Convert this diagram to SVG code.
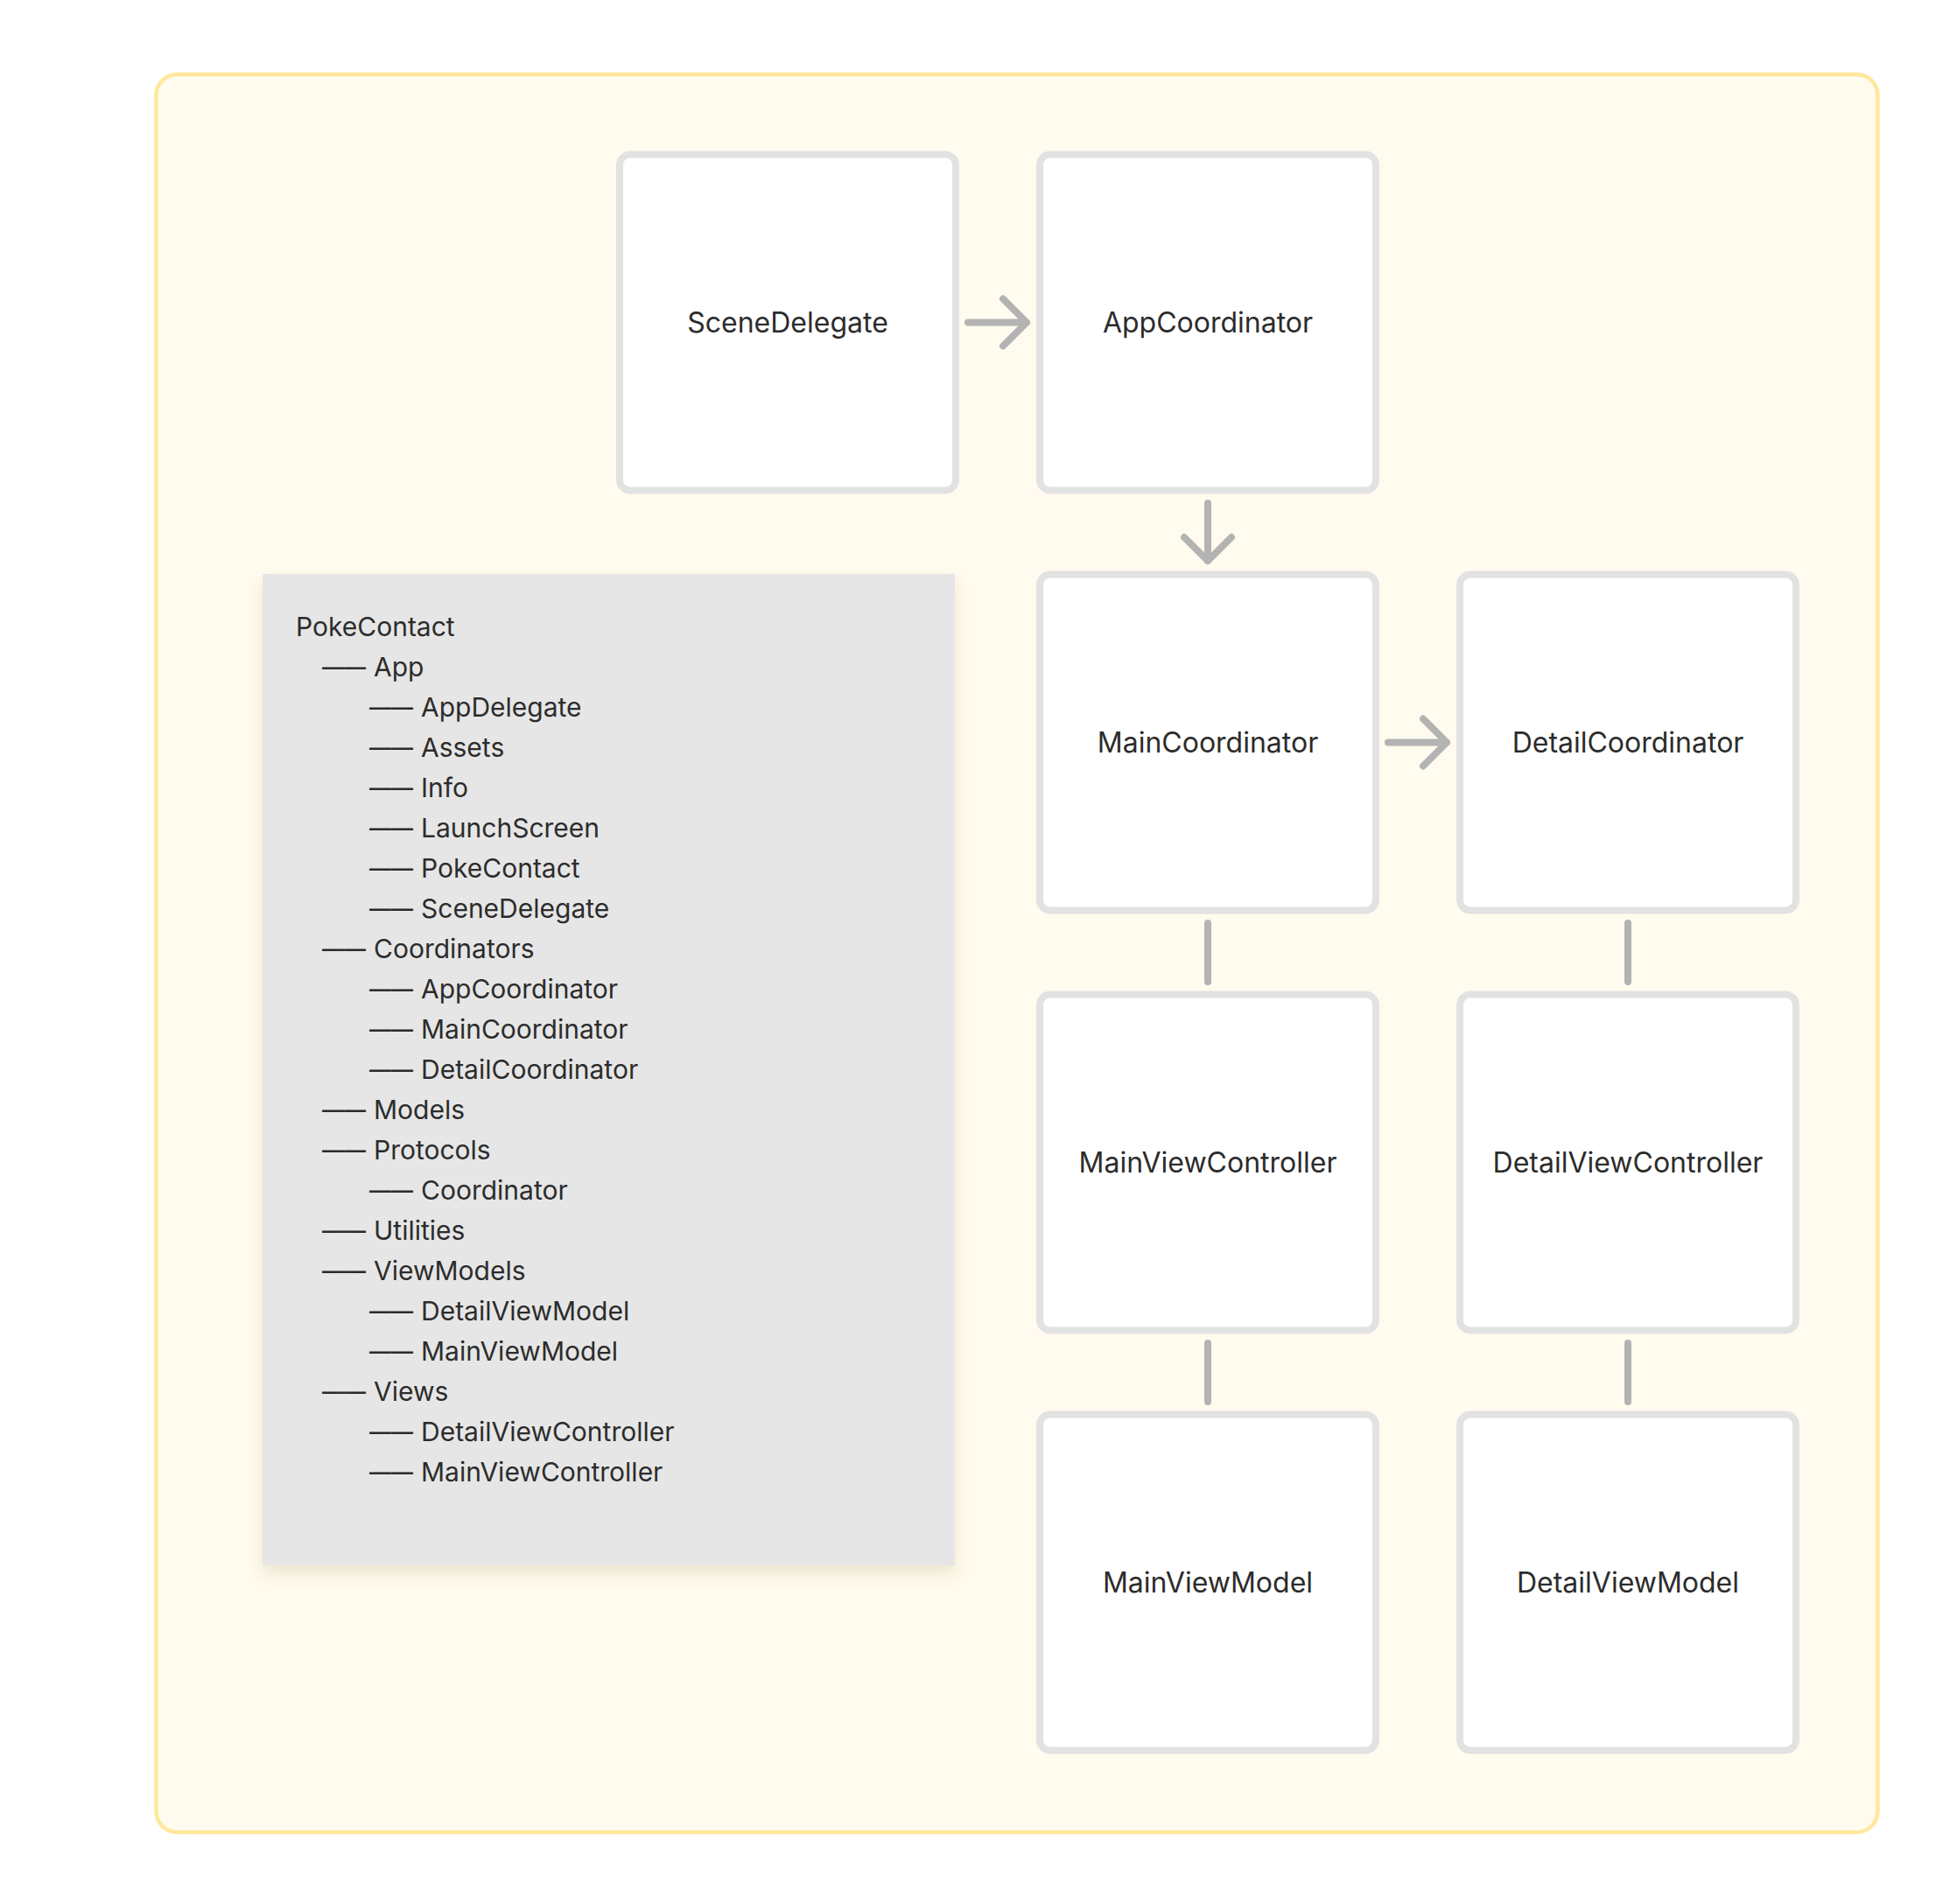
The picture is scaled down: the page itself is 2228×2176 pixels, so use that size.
<svg xmlns="http://www.w3.org/2000/svg" width="2228" height="2176" viewBox="0 0 2228 2176">
<style>
.frame{fill:#fffbee;stroke:#ffe79c;stroke-width:4.5}
.node rect{fill:#ffffff;stroke:#e2e2e2;stroke-width:8}
.node text{font-family:Inter,"Noto Sans","Liberation Sans",sans-serif;font-size:32px;fill:#2c2c2c;text-anchor:middle}
.conn{stroke:#b3b3b3;stroke-width:8;stroke-linecap:round;stroke-linejoin:round;fill:none}
#tree text{font-family:Inter,"Noto Sans","Liberation Sans",sans-serif;font-size:30px;fill:#2c2c2c}
.panel{fill:#e6e6e6}
</style>
<defs>
<filter id="shadow" x="-10%" y="-10%" width="120%" height="125%">
<feDropShadow dx="0" dy="10" stdDeviation="9" flood-color="#6b5a1e" flood-opacity="0.13"/>
</filter>
</defs>
<rect width="2228" height="2176" fill="#ffffff"/>
<rect class="frame" x="178.4" y="85" width="1967" height="2009" rx="24"/>

<g id="tree">
<rect class="panel" x="300" y="656" width="791" height="1133" filter="url(#shadow)"/>
<text x="338" y="727">PokeContact</text>
<text y="773"><tspan x="368" textLength="50" lengthAdjust="spacingAndGlyphs">——</tspan><tspan x="427">App</tspan></text>
<text y="819"><tspan x="422" textLength="50" lengthAdjust="spacingAndGlyphs">——</tspan><tspan x="481">AppDelegate</tspan></text>
<text y="865"><tspan x="422" textLength="50" lengthAdjust="spacingAndGlyphs">——</tspan><tspan x="481">Assets</tspan></text>
<text y="911"><tspan x="422" textLength="50" lengthAdjust="spacingAndGlyphs">——</tspan><tspan x="481">Info</tspan></text>
<text y="957"><tspan x="422" textLength="50" lengthAdjust="spacingAndGlyphs">——</tspan><tspan x="481">LaunchScreen</tspan></text>
<text y="1003"><tspan x="422" textLength="50" lengthAdjust="spacingAndGlyphs">——</tspan><tspan x="481">PokeContact</tspan></text>
<text y="1049"><tspan x="422" textLength="50" lengthAdjust="spacingAndGlyphs">——</tspan><tspan x="481">SceneDelegate</tspan></text>
<text y="1095"><tspan x="368" textLength="50" lengthAdjust="spacingAndGlyphs">——</tspan><tspan x="427">Coordinators</tspan></text>
<text y="1141"><tspan x="422" textLength="50" lengthAdjust="spacingAndGlyphs">——</tspan><tspan x="481">AppCoordinator</tspan></text>
<text y="1187"><tspan x="422" textLength="50" lengthAdjust="spacingAndGlyphs">——</tspan><tspan x="481">MainCoordinator</tspan></text>
<text y="1233"><tspan x="422" textLength="50" lengthAdjust="spacingAndGlyphs">——</tspan><tspan x="481">DetailCoordinator</tspan></text>
<text y="1279"><tspan x="368" textLength="50" lengthAdjust="spacingAndGlyphs">——</tspan><tspan x="427">Models</tspan></text>
<text y="1325"><tspan x="368" textLength="50" lengthAdjust="spacingAndGlyphs">——</tspan><tspan x="427">Protocols</tspan></text>
<text y="1371"><tspan x="422" textLength="50" lengthAdjust="spacingAndGlyphs">——</tspan><tspan x="481">Coordinator</tspan></text>
<text y="1417"><tspan x="368" textLength="50" lengthAdjust="spacingAndGlyphs">——</tspan><tspan x="427">Utilities</tspan></text>
<text y="1463"><tspan x="368" textLength="50" lengthAdjust="spacingAndGlyphs">——</tspan><tspan x="427">ViewModels</tspan></text>
<text y="1509"><tspan x="422" textLength="50" lengthAdjust="spacingAndGlyphs">——</tspan><tspan x="481">DetailViewModel</tspan></text>
<text y="1555"><tspan x="422" textLength="50" lengthAdjust="spacingAndGlyphs">——</tspan><tspan x="481">MainViewModel</tspan></text>
<text y="1601"><tspan x="368" textLength="50" lengthAdjust="spacingAndGlyphs">——</tspan><tspan x="427">Views</tspan></text>
<text y="1647"><tspan x="422" textLength="50" lengthAdjust="spacingAndGlyphs">——</tspan><tspan x="481">DetailViewController</tspan></text>
<text y="1693"><tspan x="422" textLength="50" lengthAdjust="spacingAndGlyphs">——</tspan><tspan x="481">MainViewController</tspan></text>
</g>

<g id="SceneDelegate" class="node"><rect x="708" y="176.5" width="384" height="384" rx="12"/><text x="900" y="380">SceneDelegate</text></g>
<g id="AppCoordinator" class="node"><rect x="1188" y="176.5" width="384" height="384" rx="12"/><text x="1380" y="380">AppCoordinator</text></g>
<g id="MainCoordinator" class="node"><rect x="1188" y="656.5" width="384" height="384" rx="12"/><text x="1380" y="860">MainCoordinator</text></g>
<g id="DetailCoordinator" class="node"><rect x="1668" y="656.5" width="384" height="384" rx="12"/><text x="1860" y="860">DetailCoordinator</text></g>
<g id="MainViewController" class="node"><rect x="1188" y="1136.5" width="384" height="384" rx="12"/><text x="1380" y="1340">MainViewController</text></g>
<g id="DetailViewController" class="node"><rect x="1668" y="1136.5" width="384" height="384" rx="12"/><text x="1860" y="1340">DetailViewController</text></g>
<g id="MainViewModel" class="node"><rect x="1188" y="1616.5" width="384" height="384" rx="12"/><text x="1380" y="1820">MainViewModel</text></g>
<g id="DetailViewModel" class="node"><rect x="1668" y="1616.5" width="384" height="384" rx="12"/><text x="1860" y="1820">DetailViewModel</text></g>

<g id="connectors">
<path class="conn" d="M1106 368.5 H1173 M1146 341.5 L1173 368.5 L1146 395.5"/>
<path class="conn" d="M1380 575 V641 M1353 614 L1380 641 L1407 614"/>
<path class="conn" d="M1586 848.5 H1653 M1626 821.5 L1653 848.5 L1626 875.5"/>
<path class="conn" d="M1380 1055 V1122"/>
<path class="conn" d="M1860 1055 V1122"/>
<path class="conn" d="M1380 1535 V1602"/>
<path class="conn" d="M1860 1535 V1602"/>
</g>
</svg>
